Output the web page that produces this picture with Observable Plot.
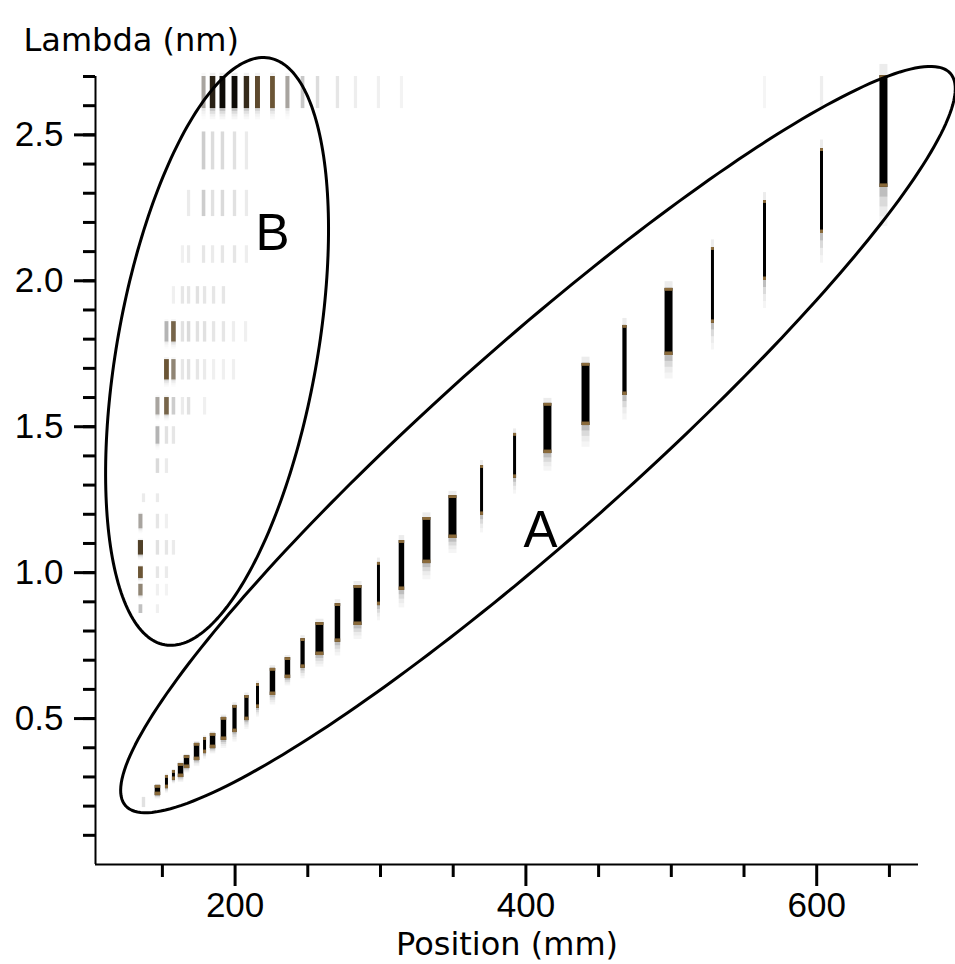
<!DOCTYPE html>
<html><head><meta charset="utf-8">
<script src="https://cdn.jsdelivr.net/npm/d3@7"></script>
<script src="https://cdn.jsdelivr.net/npm/@observablehq/plot@0.6"></script>
<style>
html,body{margin:0;padding:0;background:#fff;}
#chart svg{display:block;}
</style></head><body><div id="chart"></div>
<script>
// ---- Series A: main diffraction line (position mm, lambda range nm, relative signal)
const aPos = [146.6,152.8,157.6,162.5,166.6,173.5,179.0,184.5,192.0,199.6,207.8,215.4,225.7,236.0,246.4,258.0,270.4,284.2,298.6,314.4,331.6,349.5,369.5,392.2,414.8,441.0,467.8,498.1,528.3,564.1,603.3,645.9];
const aLo = [0.236,0.260,0.288,0.298,0.329,0.356,0.380,0.397,0.425,0.452,0.493,0.535,0.579,0.637,0.672,0.716,0.761,0.819,0.887,0.939,1.031,1.117,1.196,1.323,1.408,1.504,1.607,1.744,1.854,2.001,2.162,2.320];
const aHi = [0.271,0.305,0.322,0.346,0.373,0.415,0.435,0.449,0.504,0.545,0.579,0.620,0.672,0.709,0.774,0.829,0.894,0.956,1.035,1.110,1.189,1.264,1.367,1.477,1.580,1.717,1.847,1.974,2.114,2.275,2.453,2.703];
const aSignal = [2,1,1,2,2,2,1,2,2,1.5,1.5,1,2,2,1.5,3,2,3,1,2,3,3,1,1,3,3,1.5,3,1,1,1,3];

// ---- Series B: faint secondary cells (rows of lambda bands)
const bRowLo = [2.59,2.38,2.22,2.06,1.92,1.79,1.66,1.54,1.44,1.34,1.24,1.15,1.06,0.98,0.92,0.86,0.195];
const bRowHi = [2.70,2.51,2.31,2.12,1.98,1.86,1.73,1.60,1.50,1.39,1.27,1.20,1.11,1.02,0.96,0.89,0.23];
const bRow = [0,0,0,0,0,0,0,0,0,0,0,0,0,0,0,0,
  1,1,1,1,1,
  2,2,2,2,2,2,
  3,3,3,3,3,3,3,
  4,4,4,4,4,4,4,
  5,5,5,5,5,5,5,5,5,5,
  6,6,6,6,6,6,6,6,6,
  7,7,7,7,7,7,
  8,8,8,
  9,9,
  10,10,
  11,11,11,
  12,12,12,12,
  13,13,13,
  14,14,14,
  15,15,
  16];
const bPos = [178.3,184.5,191.3,199.6,207.8,215.4,225.7,236.0,246.4,256.7,270.4,282.8,298.6,314.4,564.1,603.3,
  178.3,184.5,191.3,199.6,207.8,
  168.0,178.3,184.5,191.3,199.6,207.8,
  163.8,168.0,178.3,184.5,191.3,199.6,207.8,
  157.6,163.8,168.0,174.1,179.0,185.2,192.0,
  152.8,157.6,163.8,168.0,174.1,179.0,185.2,192.0,198.9,207.2,
  152.8,157.6,163.8,168.0,174.1,179.0,185.2,192.0,198.9,
  146.6,152.8,157.6,163.8,168.0,179.0,
  146.6,152.8,157.6,
  146.6,152.8,
  137.0,146.6,
  134.9,146.6,152.8,
  134.9,146.6,152.8,157.6,
  134.9,146.6,152.8,
  134.9,146.6,152.8,
  134.9,146.6,
  137.0];
const bLevel = [0.35,0.85,0.95,0.95,0.8,0.65,0.6,0.35,0.22,0.14,0.1,0.07,0.06,0.05,0.04,0.07,
  0.2,0.14,0.15,0.12,0.08,
  0.08,0.2,0.12,0.15,0.12,0.08,
  0.06,0.08,0.1,0.08,0.1,0.1,0.07,
  0.06,0.1,0.1,0.12,0.1,0.1,0.1,
  0.3,0.55,0.12,0.15,0.12,0.12,0.1,0.1,0.07,0.06,
  0.6,0.45,0.1,0.12,0.1,0.08,0.06,0.06,0.06,
  0.35,0.55,0.2,0.08,0.12,0.06,
  0.3,0.12,0.1,
  0.15,0.08,
  0.08,0.08,
  0.35,0.1,0.06,
  0.7,0.12,0.1,0.08,
  0.6,0.1,0.08,
  0.45,0.06,0.05,
  0.25,0.06,
  0.12];

// ---- Annotation ellipses (centre in data units, semi-axes in px, tilt in degrees)
const ellipseName = ["A","B"];
const ellipseCx = [408.3, 187.6];
const ellipseCy = [1.456, 1.758];
const ellipseRx = [551.5, 298];
const ellipseRy = [96.2, 100];
const ellipseAngle = [41.6, 79.9];

// ---- Labels and ticks
const labelText = ["A","B"];
const labelPos = [410.0, 225.7];
const labelLam = [1.143, 2.161];
const xMajor = [200,400,600];
const xMinor = [150,250,300,350,450,500,550,650];
const yMajor = [0.5,1.0,1.5,2.0,2.5];
const yMinor = d3.range(1,28).map(i => i/10);
const xTitle = "Position (mm)";
const yTitle = "Lambda (nm)";

// ---- Layout
const W = 955, H = 964, mL = 95, mR = 37, mT = 76, mB = 100;
const xDomain = [104, 670], yDomain = [0, 2.7];
const kx = (W - mL - mR) / (xDomain[1] - xDomain[0]);
const ky = (H - mT - mB) / (yDomain[1] - yDomain[0]);

const aBars = aPos.map((p,i) => ({pos:p, lo:aLo[i], hi:aHi[i], w: 3 + (aSignal[i]-1)*2.5}));
const bCells = bPos.map((p,i) => ({pos:p, lo:bRowLo[bRow[i]], hi:bRowHi[bRow[i]], level:bLevel[i], w: 3 + 3*bLevel[i]}));

const tails = [];
function addTail(p, lo, hi, w, s) {
  const L = 0.35*(hi-lo), op = [0.35,0.2,0.1,0.05];
  for (let k=0;k<4;k++) tails.push({pos:p, y1: lo-(k+1)*L/4, y2: lo-k*L/4, w, op: op[k]*s});
  tails.push({pos:p, y1: hi, y2: hi+0.1*(hi-lo), w, op: 0.1*s});
}
aBars.forEach(d => addTail(d.pos, d.lo, d.hi, d.w, 1));
bCells.filter(d => d.level >= 0.3).forEach(d => addTail(d.pos, d.lo, d.hi, d.w, d.level));

const tips = [];
aBars.forEach(d => {
  tips.push({pos:d.pos, y1:d.lo, y2:d.lo+0.012, w:d.w});
  tips.push({pos:d.pos, y1:d.hi-0.01, y2:d.hi, w:d.w});
});

const ellipsePts = [];
ellipseName.forEach((n,i) => {
  const phi = ellipseAngle[i]*Math.PI/180;
  for (let k=0;k<240;k++) {
    const t = 2*Math.PI*k/240;
    const dx = ellipseRx[i]*Math.cos(t)*Math.cos(phi) - ellipseRy[i]*Math.sin(t)*Math.sin(phi);
    const dy = ellipseRx[i]*Math.cos(t)*Math.sin(phi) + ellipseRy[i]*Math.sin(t)*Math.cos(phi);
    ellipsePts.push({id:n, pos: ellipseCx[i] + dx/kx, lam: ellipseCy[i] + dy/ky});
  }
});
const labels = labelText.map((t,i) => ({t, pos:labelPos[i], lam:labelLam[i]}));

const chart = Plot.plot({
  width: W, height: H,
  marginLeft: mL, marginRight: mR, marginTop: mT, marginBottom: mB,
  x: {domain: xDomain},
  y: {domain: yDomain},
  color: {type: "linear", domain: [0,0.3,0.6,1], range: ["#ffffff","#b4b4b4","#6b5535","#000000"]},
  style: {fontFamily: "'Liberation Sans', Arial, sans-serif", color: "#000", background: "#fff"},
  marks: [
    Plot.ruleX(tails, {x:"pos", y1:"y1", y2:"y2", stroke:"#444", strokeOpacity:"op", strokeWidth:"w"}),
    Plot.ruleX(bCells, {x:"pos", y1:"lo", y2:"hi", stroke:"level", strokeWidth:"w"}),
    Plot.ruleX(aBars, {x:"pos", y1:"lo", y2:"hi", stroke:"#000", strokeWidth:"w"}),
    Plot.ruleX(tips, {x:"pos", y1:"y1", y2:"y2", stroke:"#8a6a3a", strokeWidth:"w"}),
    Plot.line(ellipsePts, {x:"pos", y:"lam", z:"id", stroke:"#000", strokeWidth:3, curve:"linear-closed"}),
    Plot.text(labels, {x:"pos", y:"lam", text:"t", fontSize:51, fill:"#000"}),
    Plot.axisY({ticks: yMinor, tickSize: 12, text: null, label: null, strokeWidth: 3}),
    Plot.axisY({ticks: yMajor, tickSize: 21, tickPadding: 11, fontSize: 35, label: null, strokeWidth: 3, tickFormat: d3.format(".1f")}),
    Plot.axisX({ticks: xMinor, tickSize: 13, text: null, label: null, strokeWidth: 3}),
    Plot.axisX({ticks: xMajor, tickSize: 22, tickPadding: 6, fontSize: 35, label: null, strokeWidth: 3}),
    Plot.ruleY([yDomain[0]], {strokeWidth: 2}),
    Plot.ruleX([xDomain[0]], {strokeWidth: 2}),
    Plot.text([yTitle], {text: d => d, frameAnchor: "top-left", textAnchor: "start", dx: -72, dy: -48, fontSize: 32, fontFamily: "'DejaVu Sans', sans-serif"}),
    Plot.text([xTitle], {text: d => d, frameAnchor: "bottom", dy: 90, fontSize: 32, fontFamily: "'DejaVu Sans', sans-serif"})
  ]
});
document.getElementById("chart").appendChild(chart);
</script></body></html>
